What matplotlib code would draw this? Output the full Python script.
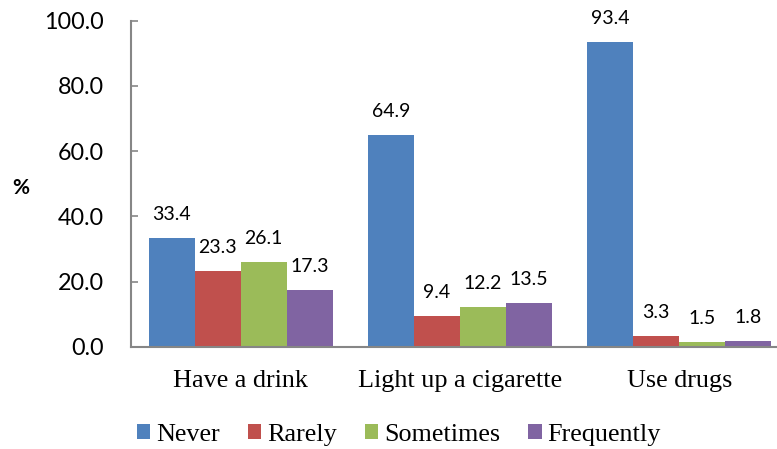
import matplotlib
matplotlib.use("Agg")
import matplotlib.pyplot as plt
import numpy as np

categories = ["Have a drink", "Light up a cigarette", "Use drugs"]
series_names = ["Never", "Rarely", "Sometimes", "Frequently"]
never = [33.4, 64.9, 93.4]
rarely = [23.3, 9.4, 3.3]
sometimes = [26.1, 12.2, 1.5]
frequently = [17.3, 13.5, 1.8]
yticks = [0, 20, 40, 60, 80, 100]

series = [never, rarely, sometimes, frequently]
colors = ["#4F81BD", "#C0504D", "#9BBB59", "#8064A2"]

W, H = 777, 449
fig = plt.figure(figsize=(W / 100, H / 100), dpi=100)
ax = fig.add_axes([131 / W, 1 - 346.7 / H, 658 / W, (346.7 - 20.7) / H])

x = np.arange(len(categories))
bw = 0.21
for i, (vals, name, c) in enumerate(zip(series, series_names, colors)):
    xs = x + (i - 1.5) * bw
    ax.bar(xs, vals, width=bw, color=c, label=name, edgecolor="none")
    for xi, v in zip(xs, vals):
        ax.annotate(f"{v:.1f}", (xi, v), xytext=(0, 13), textcoords="offset points",
                    ha="center", va="baseline", fontsize=14, family="Lato",
                    color="#000000")

ax.set_xlim(-0.5, 2.5)
ax.set_ylim(0, 100)
ax.set_yticks(yticks)
ax.set_yticklabels([f"{t:.1f}" for t in yticks], family="Lato", fontsize=16.8)
ax.set_xticks(x)
ax.set_xticklabels(categories, family="Liberation Serif", fontsize=18.8)

for s in ["top", "right"]:
    ax.spines[s].set_visible(False)
for s in ["left", "bottom"]:
    ax.spines[s].set_color("#868686")
    ax.spines[s].set_linewidth(1.5)
ax.tick_params(axis="y", direction="in", length=5, width=1.2, color="#868686", pad=19.5)
ax.tick_params(axis="x", length=0, pad=17)

fig.text(20.5 / W, 1 - 188 / H, "%", ha="center", va="center", fontsize=15,
         fontweight="bold", family="Lato")

fig.legend(loc="center", bbox_to_anchor=(399 / W, 1 - 435 / H), ncol=4, frameon=False,
           prop={"family": "Liberation Serif", "size": 18.8}, handlelength=0.51,
           handleheight=0.51, handletextpad=0.22, columnspacing=1.08, borderpad=0)

fig.savefig("out.png", dpi=100)
